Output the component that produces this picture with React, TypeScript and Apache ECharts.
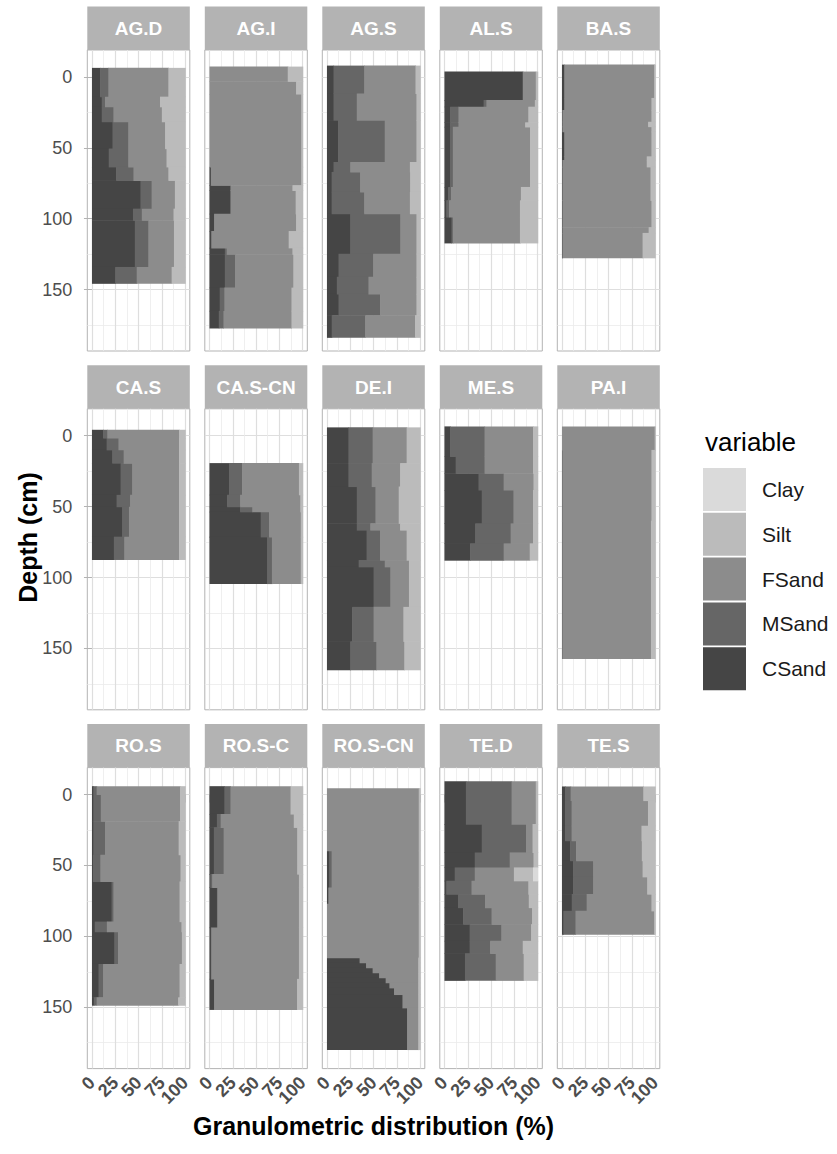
import React, { useEffect, useRef } from "react";
import * as echarts from "echarts";

// ---------- data ----------
// each row: [depthTop, depthBottom, CSand, MSand, FSand, Silt, Clay]  (depth in cm, fractions in %)
const AG_D = [
  [-6.4, 13.9, 8.7, 8.9, 64.4, 18, 0],
  [13.9, 21, 10.5, 3.5, 59, 27, 0],
  [21, 31.6, 10.5, 12.5, 52, 25, 0],
  [31.6, 50.5, 22, 17, 39.5, 21.5, 0],
  [50.5, 63.4, 18, 21, 41, 20, 0],
  [63.4, 72.9, 26, 18.5, 37.5, 18, 0],
  [72.9, 92.9, 52, 12, 25, 11, 0],
  [92.9, 101, 44, 9.5, 34, 12.5, 0],
  [101, 134, 46, 14.5, 27.5, 12, 0],
  [134, 145.5, 25, 23, 37.5, 14.5, 0],
];
const AG_I = [
  [-7.3, 3, 0, 0, 84, 16, 0],
  [3, 12, 0, 0, 93, 7, 0],
  [12, 63.4, 0, 0, 98.5, 1.5, 0],
  [63.4, 76.4, 1.5, 0, 97, 1.5, 0],
  [76.4, 80, 22.5, 0, 66.5, 11, 0],
  [80, 96.5, 22.5, 0, 70, 7.5, 0],
  [96.5, 108.7, 5, 0, 88, 7, 0],
  [108.7, 120.5, 2, 0, 83, 15, 0],
  [120.5, 125, 16.5, 2, 70.5, 11, 0],
  [125, 148.6, 16.5, 11, 62.5, 10, 0],
  [148.6, 165, 11, 5, 72, 12, 0],
  [165, 177, 10, 5, 73, 12, 0],
];
const AG_S = [
  [-8, 11.6, 7, 33, 55, 5, 0],
  [11.6, 30.4, 7, 25, 64, 4, 0],
  [30.4, 60, 12, 50, 34, 4, 0],
  [60, 67, 7, 18, 64, 11, 0],
  [67, 81, 5, 30.6, 53.7, 10.7, 0],
  [81, 96.4, 5, 35, 49, 11, 0],
  [96.4, 124.7, 25, 53.7, 17.3, 4, 0],
  [124.7, 141, 12.4, 37.2, 46.4, 4, 0],
  [141, 153, 10.6, 33.9, 51.5, 4, 0],
  [153, 168, 12.4, 44.6, 39, 4, 0],
  [168, 183.6, 5.1, 35.9, 53.5, 5.5, 0],
];
const AL_S = [
  [-3.8, 16.3, 84, 0, 14, 2, 0],
  [16.3, 21, 42, 3, 52, 3, 0],
  [21, 32, 6, 9, 75, 10, 0],
  [32, 35.2, 6, 9, 71.6, 13.4, 0],
  [35.2, 77.6, 6, 3, 82.8, 8.2, 0],
  [77.6, 87, 4, 3, 75, 18, 0],
  [87, 98.8, 2, 3, 76, 19, 0],
  [98.8, 117, 7.5, 1.5, 72, 19, 0],
];
const BA_S = [
  [-8.7, 14.8, 2.5, 0, 96.5, 1, 0],
  [14.8, 23.3, 2.5, 0, 93.5, 4, 0],
  [23.3, 31.6, 0.5, 0, 95.5, 4, 0],
  [31.6, 35, 0.5, 0, 92, 7.5, 0],
  [35, 38.6, 0.5, 0, 95.5, 4, 0],
  [38.6, 56, 2.5, 0, 93.5, 4, 0],
  [56, 58.5, 2.5, 0, 88.5, 9, 0],
  [58.5, 63.4, 0.5, 0, 90.5, 9, 0],
  [63.4, 87, 0.5, 0, 94.5, 5, 0],
  [87, 106, 0.5, 0, 95.5, 4, 0],
  [106, 110, 0.5, 0, 92.5, 7, 0],
  [110, 127.5, 0.5, 0, 86, 13.5, 0],
];
const CA_S = [
  [-4.2, 1.6, 12, 4.5, 77, 6.5, 0],
  [1.6, 9.9, 15.7, 12.7, 65, 6.6, 0],
  [9.9, 19.3, 21.8, 12.2, 59.4, 6.6, 0],
  [19.3, 41.7, 30.7, 12.5, 50.2, 6.6, 0],
  [41.7, 50, 26.4, 14.6, 52.4, 6.6, 0],
  [50, 71.2, 32.5, 7.2, 53.7, 6.6, 0],
  [71.2, 87.2, 23.5, 11.2, 58.7, 6.6, 0],
];
const CA_S_CN = [
  [19.3, 41.6, 21, 14, 61, 4, 0],
  [41.6, 50, 19, 14, 64.5, 2.5, 0],
  [50, 53.6, 33, 13, 51.5, 2.5, 0],
  [53.6, 71.3, 55, 9, 34, 2, 0],
  [71.3, 104.2, 62, 5, 31, 2, 0],
];
const DE_I = [
  [-5.9, 19.3, 23, 26, 36.5, 14.5, 0],
  [19.3, 35.8, 23, 25, 30.5, 21.5, 0],
  [35.8, 61.7, 32, 20, 25, 23, 0],
  [61.7, 66.5, 32, 14.5, 32, 21.5, 0],
  [66.5, 87.7, 42.5, 14.5, 28.5, 14.5, 0],
  [87.7, 92.4, 34, 28, 26, 12, 0],
  [92.4, 120.7, 50, 18, 20, 12, 0],
  [120.7, 145, 27, 23, 32, 18, 0],
  [145, 165, 25, 28, 30, 17, 0],
];
const ME_S = [
  [-6.6, 14.6, 6, 37, 52, 5, 0],
  [14.6, 26.4, 12, 31, 52, 5, 0],
  [26.4, 38.2, 36.5, 27, 32, 4.5, 0],
  [38.2, 61.8, 40, 34, 21, 5, 0],
  [61.8, 75.9, 33, 38, 24, 5, 0],
  [75.9, 87.7, 27.5, 36, 28, 8.5, 0],
];
const PA_I = [
  [-6.6, 10, 0, 0, 99.5, 0.5, 0],
  [10, 60, 0.4, 0, 95.6, 4, 0],
  [60, 157, 0.4, 0, 95.1, 4.5, 0],
];
const RO_S = [
  [-5.9, -0.1, 1.5, 3.5, 89.5, 5.5, 0],
  [-0.1, 18.8, 1.5, 8, 85, 5.5, 0],
  [18.8, 42.4, 1.5, 12.5, 79, 7, 0],
  [42.4, 61.3, 1, 8, 86, 5, 0],
  [61.3, 89.6, 21, 2, 71, 6, 0],
  [89.6, 96.7, 3, 13, 80, 4, 0],
  [96.7, 119.5, 24, 4, 68.5, 3.5, 0],
  [119.5, 143, 7, 5, 82, 6, 0],
  [143, 148.5, 2, 3, 87.5, 7.5, 0],
];
const RO_S_C = [
  [-5.9, 13.7, 16, 6.5, 64.5, 13, 0],
  [13.7, 23.1, 8, 4, 78.5, 9.5, 0],
  [23.1, 56.1, 4.7, 10.5, 79, 5.8, 0],
  [56.1, 65.5, 1, 2, 93, 4, 0],
  [65.5, 93.8, 8, 0.5, 87.5, 4, 0],
  [93.8, 130, 1.5, 0.5, 94, 4, 0],
  [130, 151.5, 5, 0, 89, 6, 0],
];
const RO_S_CN = [
  [-4.5, 39.6, 0, 0, 98.5, 1.5, 0],
  [39.6, 65.5, 2.5, 2.5, 93.5, 1.5, 0],
  [65.5, 77, 1.5, 0, 97, 1.5, 0],
  [77, 115, 0, 0, 98.5, 1.5, 0],
  [115, 118.6, 35, 0, 63, 2, 0],
  [118.6, 122.1, 42, 0, 56, 2, 0],
  [122.1, 125.7, 49, 0, 49, 2, 0],
  [125.7, 129.2, 56, 0, 42, 2, 0],
  [129.2, 132.7, 63, 0, 35, 2, 0],
  [132.7, 136.3, 67, 0, 31, 2, 0],
  [136.3, 141, 72, 0, 26, 2, 0],
  [141, 150.4, 81, 0, 17, 2, 0],
  [150.4, 179.8, 86, 0, 12, 2, 0],
];
const TE_D = [
  [-9.4, 20.8, 23, 49, 26, 2, 0],
  [20.8, 40.8, 40, 47.5, 7, 5.5, 0],
  [40.8, 51.4, 32.5, 37.5, 25.5, 4.5, 0],
  [51.4, 60.8, 11, 21.5, 42, 20.5, 5],
  [60.8, 70.2, 2, 27, 61, 10, 0],
  [70.2, 79.7, 14.5, 29, 47, 9.5, 0],
  [79.7, 91.4, 20, 30.5, 43.5, 6, 0],
  [91.4, 103.2, 27, 34, 32, 7, 0],
  [103.2, 112, 27, 22, 35, 16, 0],
  [112, 131, 22, 33, 30, 15, 0],
];
const TE_S = [
  [-5.7, 4.2, 3.3, 6, 78, 12.7, 0],
  [4.2, 22, 3.3, 7, 82, 7.7, 0],
  [22, 32.5, 3.3, 7, 75, 14.7, 0],
  [32.5, 46.6, 8.7, 6.5, 70.5, 14.3, 0],
  [46.6, 58, 12, 21.5, 53, 13.5, 0],
  [58, 70.2, 12, 21.5, 58, 8.5, 0],
  [70.2, 82, 10.5, 16, 69.5, 4, 0],
  [82, 98.5, 1.5, 13, 84.5, 1, 0],
];

const PANEL_NAMES = [
  "AG.D", "AG.I", "AG.S", "AL.S", "BA.S",
  "CA.S", "CA.S-CN", "DE.I", "ME.S", "PA.I",
  "RO.S", "RO.S-C", "RO.S-CN", "TE.D", "TE.S",
];
const PANEL_DATA = [
  AG_D, AG_I, AG_S, AL_S, BA_S,
  CA_S, CA_S_CN, DE_I, ME_S, PA_I,
  RO_S, RO_S_C, RO_S_CN, TE_D, TE_S,
];
// stacking order from 0 upward
const VARIABLES = ["CSand", "MSand", "FSand", "Silt", "Clay"];
const LEGEND_ORDER = ["Clay", "Silt", "FSand", "MSand", "CSand"];
const X_TICKS = [0, 25, 50, 75, 100];
const X_LABELS_A = [0, 50, 100];
const X_LABELS_B = [25, 75];
const X_MINOR = [12.5, 37.5, 62.5, 87.5];
const Y_TICKS = [0, 50, 100, 150];
const Y_MINOR = [25, 75, 125, 175];

// ---------- styles / layout ----------
const W = 837;
const H = 1154;
const FONT = "'Liberation Sans', Arial, Helvetica, sans-serif";
const COLORS: Record<string, string> = {
  CSand: "#454545",
  MSand: "#666666",
  FSand: "#8c8c8c",
  Silt: "#bbbbbb",
  Clay: "#dadada",
};
const PANEL_LEFT0 = 87.3;
const PANEL_DX = 117.5;
const PANEL_W = 102.5;
const PANEL_TOP0 = 50;
const PANEL_DY = 358.8;
const PANEL_H = 301;
const STRIP_H = 43.5;
const X_MIN = -5;
const X_MAX = 105;
const Y_MIN = -19;
const Y_MAX = 193.3;
const BORDER = "#b3b3b3";
const GRID_MAJOR = "#dedede";
const GRID_MINOR = "#ebebeb";

function xLabelStyle(show: boolean, values: number[]) {
  return {
    show,
    customValues: values,
    showMinLabel: true,
    showMaxLabel: true,
    hideOverlap: false,
    rotate: 45,
    fontSize: 18,
    fontWeight: "bold",
    color: "#4d4d4d",
    fontFamily: FONT,
    margin: 11,
  };
}

function buildOption() {
  const grids: any[] = [];
  const xAxes: any[] = [];
  const yAxes: any[] = [];
  const series: any[] = [];
  const graphics: any[] = [];

  PANEL_NAMES.forEach((name, i) => {
    const r = Math.floor(i / 5);
    const c = i % 5;
    const left = PANEL_LEFT0 + c * PANEL_DX;
    const top = PANEL_TOP0 + r * PANEL_DY;
    grids.push({
      left,
      top,
      width: PANEL_W,
      height: PANEL_H,
      show: true,
      borderColor: BORDER,
      borderWidth: 1,
      backgroundColor: "#ffffff",
      containLabel: false,
    });
    const bottomRow = r === 2;
    const firstCol = c === 0;
    // major x axis: major grid lines, ticks, labels 0/50/100
    xAxes.push({
      gridIndex: i,
      type: "value",
      min: X_MIN,
      max: X_MAX,
      position: "bottom",
      axisLine: { show: false },
      axisTick: {
        show: bottomRow,
        customValues: X_TICKS,
        length: 8,
        lineStyle: { color: BORDER, width: 1 },
      },
      axisLabel: xLabelStyle(bottomRow, X_LABELS_A),
      splitLine: { show: true, lineStyle: { color: GRID_MAJOR, width: 1.2 } },
    });
    // minor x axis: minor grid lines, labels 25/75
    xAxes.push({
      gridIndex: i,
      type: "value",
      min: X_MIN,
      max: X_MAX,
      position: "bottom",
      offset: 0,
      axisLine: { show: false },
      axisTick: { show: false, customValues: X_MINOR },
      axisLabel: xLabelStyle(bottomRow, X_LABELS_B),
      splitLine: { show: true, lineStyle: { color: GRID_MINOR, width: 0.8 } },
    });
    yAxes.push({
      gridIndex: i,
      type: "value",
      min: Y_MIN,
      max: Y_MAX,
      inverse: true,
      position: "left",
      axisLine: { show: false },
      axisTick: {
        show: firstCol,
        customValues: Y_TICKS,
        length: 8,
        lineStyle: { color: BORDER, width: 1 },
      },
      axisLabel: {
        show: firstCol,
        customValues: Y_TICKS,
        showMinLabel: true,
        showMaxLabel: true,
        hideOverlap: false,
        fontSize: 18,
        color: "#4d4d4d",
        fontFamily: FONT,
        margin: 15,
      },
      splitLine: { show: true, lineStyle: { color: GRID_MAJOR, width: 1.2 } },
    });
    yAxes.push({
      gridIndex: i,
      type: "value",
      min: Y_MIN,
      max: Y_MAX,
      inverse: true,
      position: "right",
      axisLine: { show: false },
      axisTick: { show: false, customValues: Y_MINOR },
      axisLabel: { show: false },
      splitLine: { show: true, lineStyle: { color: GRID_MINOR, width: 0.8 } },
    });

    // strip
    graphics.push({
      type: "rect",
      shape: { x: left, y: top - STRIP_H, width: PANEL_W, height: STRIP_H },
      style: { fill: BORDER },
      silent: true,
    });
    graphics.push({
      type: "text",
      x: left + PANEL_W / 2,
      y: top - STRIP_H / 2,
      style: {
        text: name,
        fill: "#ffffff",
        font: `bold 19px ${FONT}`,
        textAlign: "center",
        textVerticalAlign: "middle",
      },
      silent: true,
    });

    // stacked series
    const rows = PANEL_DATA[i];
    VARIABLES.forEach((v, k) => {
      const data = rows.map((row) => {
        let start = 0;
        for (let j = 0; j < k; j++) start += row[2 + j];
        const end = start + row[2 + k];
        return [row[0], row[1], start, end];
      });
      const color = COLORS[v];
      series.push({
        type: "custom",
        name: v,
        xAxisIndex: 2 * i,
        yAxisIndex: 2 * i,
        itemStyle: { color },
        encode: { x: [2, 3], y: [0, 1] },
        data,
        silent: true,
        renderItem: (params: any, api: any) => {
          const x0 = api.value(2);
          const x1 = api.value(3);
          if (x1 - x0 <= 0) return null;
          const p1 = api.coord([x0, api.value(0)]);
          const p2 = api.coord([x1, api.value(1)]);
          const x = Math.min(p1[0], p2[0]);
          const y = Math.min(p1[1], p2[1]);
          return {
            type: "rect",
            shape: {
              x,
              y,
              width: Math.abs(p2[0] - p1[0]) + 0.6,
              height: Math.abs(p2[1] - p1[1]) + 0.6,
            },
            style: { fill: color },
          };
        },
      });
    });
  });

  // axis titles
  graphics.push({
    type: "text",
    x: 28,
    y: PANEL_TOP0 - STRIP_H + (2 * PANEL_DY + PANEL_H + STRIP_H) / 2,
    rotation: Math.PI / 2,
    style: {
      text: "Depth (cm)",
      fill: "#000000",
      font: `bold 25px ${FONT}`,
      textAlign: "center",
      textVerticalAlign: "middle",
    },
    silent: true,
  });
  graphics.push({
    type: "text",
    x: PANEL_LEFT0 + (4 * PANEL_DX + PANEL_W) / 2,
    y: 1126,
    style: {
      text: "Granulometric distribution (%)",
      fill: "#000000",
      font: `bold 25px ${FONT}`,
      textAlign: "center",
      textVerticalAlign: "middle",
    },
    silent: true,
  });
  graphics.push({
    type: "text",
    x: 705,
    y: 442,
    style: {
      text: "variable",
      fill: "#000000",
      font: `26px ${FONT}`,
      textAlign: "left",
      textVerticalAlign: "middle",
    },
    silent: true,
  });

  return {
    animation: false,
    backgroundColor: "#ffffff",
    grid: grids,
    xAxis: xAxes,
    yAxis: yAxes,
    legend: {
      data: LEGEND_ORDER,
      orient: "vertical",
      left: 703,
      top: 468,
      padding: 0,
      itemWidth: 43,
      itemHeight: 43,
      itemGap: 1.8,
      icon: "rect",
      selectedMode: false,
      textStyle: {
        fontSize: 21,
        color: "#1a1a1a",
        fontFamily: FONT,
        padding: [0, 0, 0, 11],
      },
    },
    graphic: graphics,
    series,
  };
}

export default function App() {
  const ref = useRef<HTMLDivElement>(null);
  useEffect(() => {
    document.body.style.margin = "0";
    const chart = echarts.init(ref.current!, null, {
      renderer: "svg",
      width: W,
      height: H,
    });
    chart.setOption(buildOption());
    return () => chart.dispose();
  }, []);
  return <div ref={ref} style={{ width: W, height: H }} />;
}
